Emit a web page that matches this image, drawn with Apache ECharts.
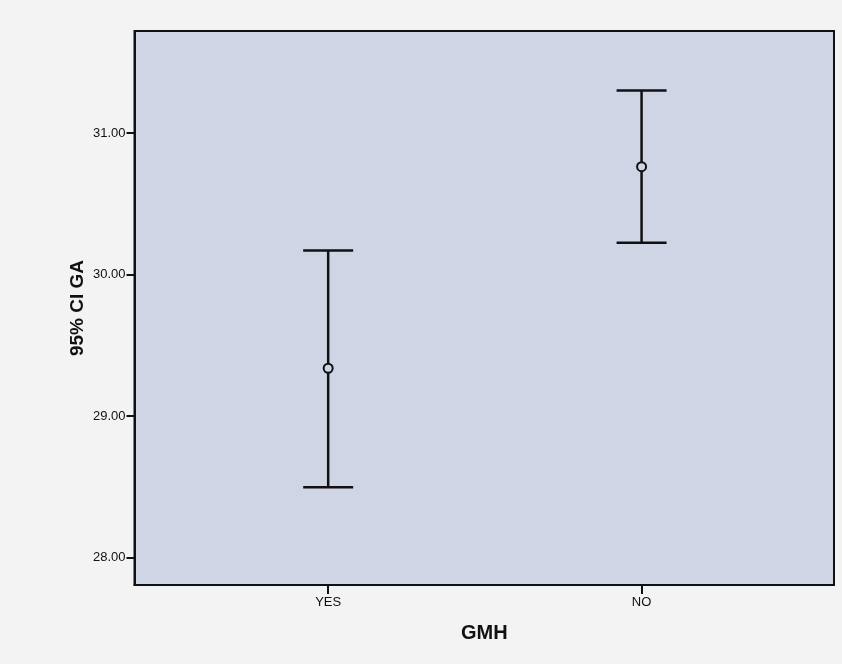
<!DOCTYPE html>
<html>
<head>
<meta charset="utf-8">
<script src="https://cdn.jsdelivr.net/npm/echarts@6/dist/echarts.min.js"></script>
<style>
html,body{margin:0;padding:0;background:#f3f3f3;}
#c{width:842px;height:664px;}
</style>
</head>
<body>
<div id="c"></div>
<script>
var categories = ['YES', 'NO'];
var meanValues = [29.338, 30.762];
var lowerValues = [28.498, 30.225];
var upperValues = [30.169, 31.299];
var yTicks = [28, 29, 30, 31];
var catPos = [1, 2];

var chart = echarts.init(document.getElementById('c'), null, {renderer: 'canvas'});

var errData = catPos.map(function (p, i) { return [p, lowerValues[i], upperValues[i]]; });
var meanData = catPos.map(function (p, i) { return [p, meanValues[i]]; });

var option = {
  backgroundColor: '#f3f3f3',
  animation: false,
  grid: {
    left: 134.5, top: 31, right: 8, bottom: 79,
    show: true,
    backgroundColor: '#d0d5e5',
    borderColor: '#111',
    borderWidth: 2
  },
  xAxis: {
    type: 'value',
    min: 0.382, max: 2.614,
    name: 'GMH',
    nameLocation: 'middle',
    nameGap: 38,
    nameMoveOverlap: false,
    nameTextStyle: {fontFamily: 'Liberation Sans', fontWeight: 'bold', fontSize: 20, color: '#111'},
    axisLine: {show: true, lineStyle: {color: '#111', width: 2}},
    axisTick: {show: true, length: 9, customValues: catPos, lineStyle: {color: '#111', width: 2}},
    axisLabel: {
      customValues: catPos,
      margin: 11,
      fontFamily: 'Liberation Sans', fontSize: 13, color: '#111',
      formatter: function (v) { return categories[Math.round(v) - 1]; }
    },
    splitLine: {show: false}
  },
  yAxis: {
    type: 'value',
    min: 27.807, max: 31.72,
    name: '95% CI GA',
    nameLocation: 'middle',
    nameGap: 47,
    nameMoveOverlap: false,
    nameTextStyle: {fontFamily: 'Liberation Sans', fontWeight: 'bold', fontSize: 19, color: '#111'},
    axisLine: {show: true, lineStyle: {color: '#111', width: 2}},
    axisTick: {show: true, length: 8, customValues: yTicks, lineStyle: {color: '#111', width: 2}},
    axisLabel: {
      customValues: yTicks,
      margin: 9,
      fontFamily: 'Liberation Sans', fontSize: 13, color: '#111',
      formatter: function (v) { return v.toFixed(2); }
    },
    splitLine: {show: false}
  },
  series: [
    {
      type: 'custom',
      data: errData,
      renderItem: function (params, api) {
        var x = api.value(0);
        var lo = api.coord([x, api.value(1)]);
        var hi = api.coord([x, api.value(2)]);
        var hw = 25;
        var st = {stroke: '#111', lineWidth: 2.5};
        return {
          type: 'group',
          children: [
            {type: 'line', shape: {x1: lo[0], y1: lo[1], x2: hi[0], y2: hi[1]}, style: st},
            {type: 'line', shape: {x1: lo[0] - hw, y1: lo[1], x2: lo[0] + hw, y2: lo[1]}, style: st},
            {type: 'line', shape: {x1: hi[0] - hw, y1: hi[1], x2: hi[0] + hw, y2: hi[1]}, style: st}
          ]
        };
      },
      z: 2
    },
    {
      type: 'scatter',
      data: meanData,
      symbol: 'circle',
      symbolSize: 9,
      itemStyle: {color: '#d0d5e5', borderColor: '#111', borderWidth: 2, opacity: 1},
      z: 3
    }
  ]
};
chart.setOption(option);
</script>
</body>
</html>
